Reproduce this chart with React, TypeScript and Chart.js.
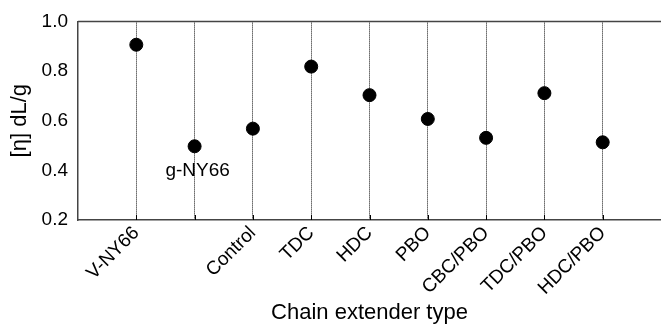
import React, { useEffect, useRef } from "react";
import { Chart, registerables } from "chart.js";

Chart.register(...registerables);

const categories = ["V-NY66", "g-NY66", "Control", "TDC", "HDC", "PBO", "CBC/PBO", "TDC/PBO", "HDC/PBO"];
const tickLabels = ["V-NY66", "", "Control", "TDC", "HDC", "PBO", "CBC/PBO", "TDC/PBO", "HDC/PBO"];
const viscosity = [0.906, 0.497, 0.568, 0.818, 0.703, 0.607, 0.531, 0.711, 0.513];
const yTicks = [0.2, 0.4, 0.6, 0.8, 1.0];
const noteLabel = "g-NY66";
const noteIndex = 1;
const noteValue = 0.4;

const FONT = "'Liberation Sans', Arial, sans-serif";
const AXIS_COLOR = "#444";

const framePlugin = {
  id: "frame",
  afterDraw(chart: any) {
    const { ctx, chartArea, scales } = chart;
    const xs = scales.x;
    const ys = scales.y;
    ctx.save();
    // top frame line
    ctx.strokeStyle = AXIS_COLOR;
    ctx.lineWidth = 1.5;
    ctx.beginPath();
    ctx.moveTo(chartArea.left, chartArea.top);
    ctx.lineTo(chart.width, chartArea.top);
    ctx.stroke();
    // inward tick marks on x axis
    ctx.strokeStyle = "#000";
    ctx.lineWidth = 1;
    categories.forEach((_, i) => {
      const px = Math.round(xs.getPixelForValue(i)) + 0.5;
      ctx.beginPath();
      ctx.moveTo(px, chartArea.bottom);
      ctx.lineTo(px, chartArea.bottom - 5);
      ctx.stroke();
    });
    // annotation text
    ctx.fillStyle = "#000";
    ctx.font = `19px ${FONT}`;
    ctx.textAlign = "center";
    ctx.textBaseline = "middle";
    ctx.fillText(noteLabel, xs.getPixelForValue(noteIndex) + 3, ys.getPixelForValue(noteValue));
    ctx.restore();
  },
};

export default function App() {
  const ref = useRef<HTMLCanvasElement>(null);
  useEffect(() => {
    const canvas = ref.current;
    if (!canvas) return;
    const chart = new Chart(canvas, {
      type: "scatter",
      data: {
        datasets: [
          {
            data: viscosity.map((v, i) => ({ x: i, y: v })),
            backgroundColor: "#000",
            borderColor: "#000",
            pointRadius: 6.5,
            pointHoverRadius: 6.5,
          },
        ],
      },
      options: {
        responsive: false,
        animation: false,
        layout: { autoPadding: false, padding: { top: 18, right: 0, left: 0, bottom: 0 } },
        plugins: { legend: { display: false }, tooltip: { enabled: false } },
        scales: {
          x: {
            type: "linear",
            min: -1,
            max: categories.length,
            afterBuildTicks: (scale: any) => {
              scale.ticks = categories.map((_, i) => ({ value: i }));
            },
            afterFit: (scale: any) => {
              scale.height = 104;
              scale.paddingLeft = 0;
              scale.paddingRight = 0;
            },
            ticks: {
              autoSkip: false,
              maxRotation: 45,
              minRotation: 45,
              padding: 2,
              color: "#000",
              font: { family: FONT, size: 19 },
              callback: (_v: any, index: number) => tickLabels[index],
            },
            grid: {
              display: true,
              drawTicks: false,
              color: "#111",
              lineWidth: 1,
            },
            border: { display: true, color: AXIS_COLOR, width: 1.5, dash: [1, 1] },
            title: {
              display: true,
              text: "Chain extender type",
              color: "#000",
              font: { family: FONT, size: 22, lineHeight: 1 },
              padding: { top: 0, bottom: 0 },
            },
          },
          y: {
            type: "linear",
            min: yTicks[0],
            max: yTicks[yTicks.length - 1],
            afterBuildTicks: (scale: any) => {
              scale.ticks = yTicks.map((v) => ({ value: v }));
            },
            afterFit: (scale: any) => {
              scale.width = 78;
            },
            ticks: {
              padding: 10,
              color: "#000",
              font: { family: FONT, size: 19 },
              callback: (v: any) => Number(v).toFixed(1),
            },
            grid: { display: false, drawTicks: false },
            border: { display: true, color: AXIS_COLOR, width: 1.5 },
            title: {
              display: true,
              text: "[η] dL/g",
              color: "#000",
              font: { family: FONT, size: 22, lineHeight: 1 },
              padding: { top: 9, bottom: 0 },
            },
          },
        },
      },
      plugins: [framePlugin],
    });
    return () => chart.destroy();
  }, []);
  return (
    <div style={{ position: "absolute", left: 0, top: 0, width: 661, height: 324, background: "#fff" }}>
      <canvas ref={ref} width={661} height={324} style={{ display: "block" }} />
    </div>
  );
}
